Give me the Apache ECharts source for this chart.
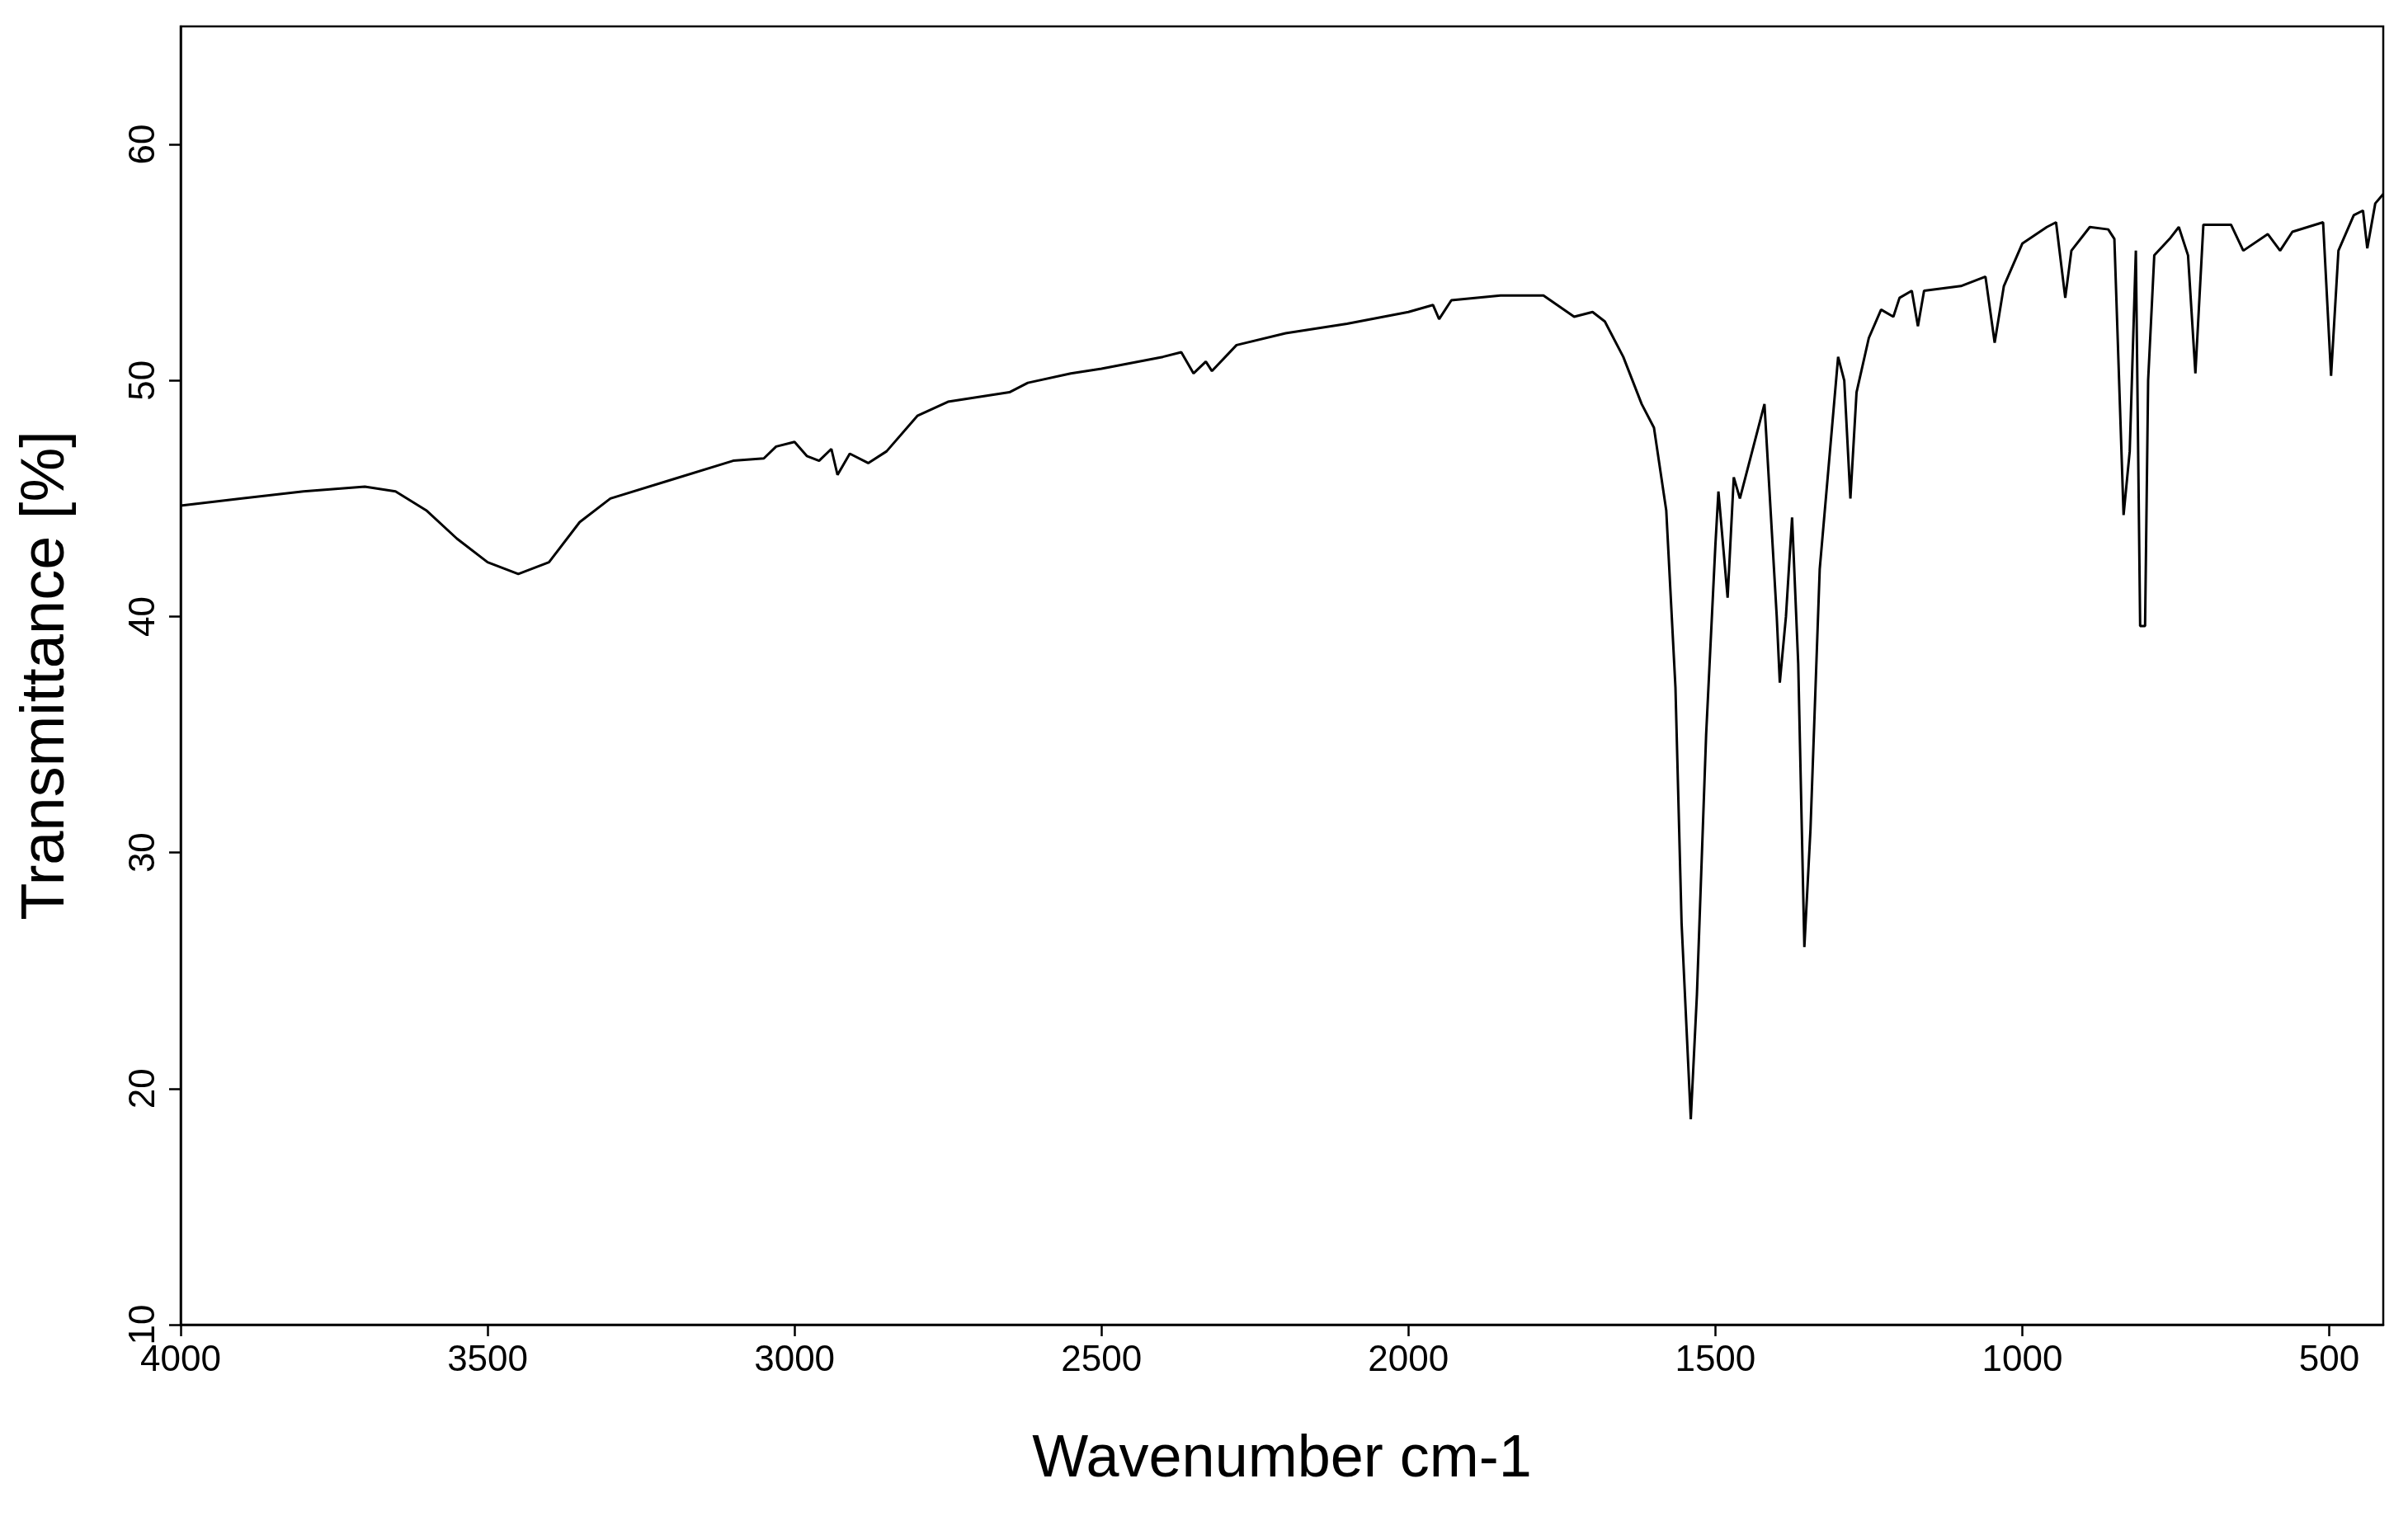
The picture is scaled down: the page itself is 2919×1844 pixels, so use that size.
<!DOCTYPE html>
<html><head><meta charset="utf-8">
<script src="https://cdn.jsdelivr.net/npm/echarts@6/dist/echarts.min.js"></script>
<style>html,body{margin:0;padding:0;background:#fff}#c{width:2919px;height:1844px}</style>
</head><body><div id="c"></div>
<script>
const wavenumber = [4000,3900,3800,3700,3650,3600,3550,3500,3450,3400,3350,3300,3200,3100,3050,3030,3000,2980,2960,2940,2930,2910,2880,2850,2800,2750,2700,2650,2620,2550,2500,2400,2370,2350,2330,2320,2280,2200,2100,2000,1960,1950,1930,1850,1780,1730,1700,1680,1650,1620,1600,1580,1565,1555,1540,1530,1515,1500,1495,1480,1470,1460,1440,1420,1400,1395,1385,1375,1365,1355,1345,1330,1310,1300,1290,1280,1270,1250,1230,1210,1200,1180,1170,1160,1100,1060,1045,1030,1000,960,945,930,920,890,860,850,835,825,815,808,800,795,785,760,745,730,718,705,660,640,600,580,560,510,497,485,460,445,438,425,412];
const transmittance = [44.7,45.0,45.3,45.5,45.3,44.5,43.3,42.3,41.8,42.3,44.0,45.0,45.8,46.6,46.7,47.2,47.4,46.8,46.6,47.1,46.0,46.9,46.5,47.0,48.5,49.1,49.3,49.5,49.9,50.3,50.5,51.0,51.2,50.3,50.8,50.4,51.5,52.0,52.4,52.9,53.2,52.6,53.4,53.6,53.6,52.7,52.9,52.5,51.0,49.0,48.0,44.5,37,27,18.7,24,35,43,45.3,40.8,45.9,45.0,47.0,49.0,40,37.2,40,44.2,38,26,31,42,48,51,50,45.0,49.5,51.8,53.0,52.7,53.5,53.8,52.3,53.8,54.0,54.4,51.6,54.0,55.8,56.5,56.7,53.5,55.5,56.5,56.4,56.0,44.3,47,55.5,39.6,39.6,50,55.3,56.0,56.5,55.3,50.3,56.6,56.6,55.5,56.2,55.5,56.3,56.7,50.2,55.5,57.0,57.2,55.6,57.5,57.9];
const xTicks = [4000,3500,3000,2500,2000,1500,1000,500];
const yTicks = [10,20,30,40,50,60];
const data = wavenumber.map((w,i)=>[w,transmittance[i]]);
const font = 'Liberation Sans';
const chart = echarts.init(document.getElementById('c'));
chart.setOption({
  animation:false,
  grid:{left:219,right:30,top:32,bottom:238,show:true,borderColor:'#000',borderWidth:2.5,backgroundColor:'transparent'},
  xAxis:{type:'value',inverse:true,min:412,max:4000,
    name:'Wavenumber cm-1',nameLocation:'middle',nameGap:128,
    nameTextStyle:{fontFamily:font,fontSize:72,color:'#000'},
    axisLine:{show:true,lineStyle:{color:'#000',width:2.5}},
    axisTick:{show:true,length:14,lineStyle:{color:'#000',width:2.5},customValues:xTicks},
    axisLabel:{fontFamily:font,fontSize:44,color:'#000',margin:22,customValues:xTicks,formatter:v=>String(v)},
    splitLine:{show:false}},
  yAxis:{type:'value',min:10,max:65,
    name:'Transmittance [%]',nameLocation:'middle',nameGap:125,nameRotate:90,
    nameTextStyle:{fontFamily:font,fontSize:74,color:'#000'},
    axisLine:{show:true,lineStyle:{color:'#000',width:2.5}},
    axisTick:{show:true,length:14,lineStyle:{color:'#000',width:2.5},customValues:yTicks},
    axisLabel:{fontFamily:font,fontSize:44,color:'#000',margin:22,rotate:90,customValues:yTicks,formatter:v=>String(v)},
    splitLine:{show:false}},
  series:[{type:'line',data:data,showSymbol:false,lineStyle:{color:'#000',width:3}}]
});
</script></body></html>
